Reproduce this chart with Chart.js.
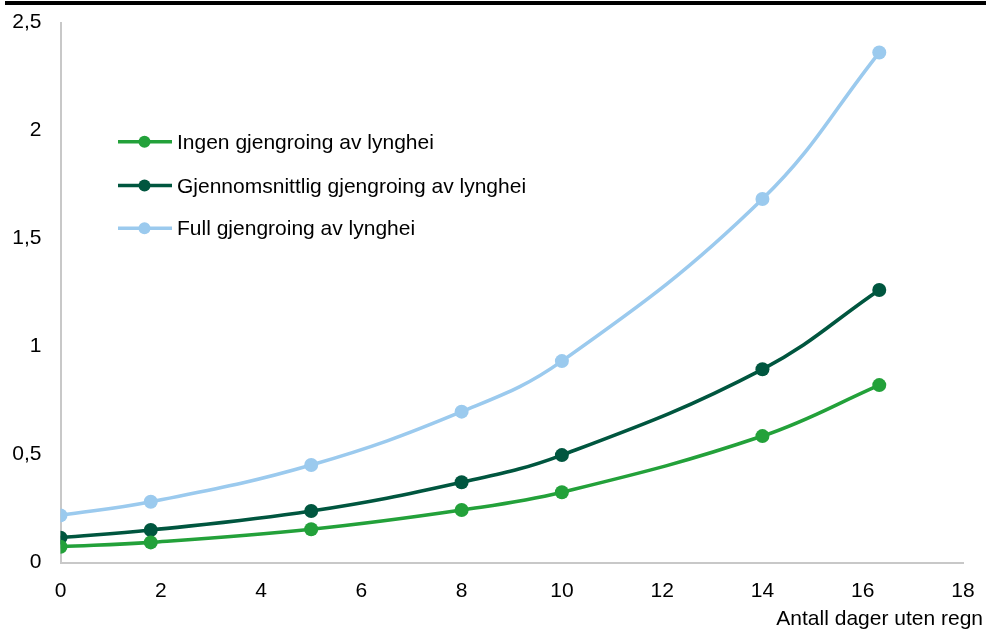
<!DOCTYPE html>
<html>
<head>
<meta charset="utf-8">
<script src="https://cdn.jsdelivr.net/npm/chart.js@4"></script>
<style>
  html, body { margin: 0; padding: 0; background: #ffffff; }
  #wrap { width: 986px; height: 630px; }
</style>
</head>
<body>
<div id="wrap"><canvas id="c" width="986" height="630"></canvas></div>
<script>
// Days without rain (x) and index values for three heathland overgrowth scenarios
const days = [0, 1.8, 5, 8, 10, 14, 16.33];
const seriesNames = [
  'Ingen gjengroing av lynghei',
  'Gjennomsnittlig gjengroing av lynghei',
  'Full gjengroing av lynghei'
];
const ingen = [0.074, 0.094, 0.155, 0.244, 0.326, 0.586, 0.822];
const gjennomsnitt = [0.116, 0.151, 0.239, 0.372, 0.498, 0.895, 1.262];
const full = [0.219, 0.282, 0.452, 0.699, 0.933, 1.683, 2.361];
const xTicks = [0, 2, 4, 6, 8, 10, 12, 14, 16, 18];
const yTicks = [0, 0.5, 1, 1.5, 2, 2.5];
const xTitle = 'Antall dager uten regn';

const colors = ['#23a13a', '#00563f', '#9bcaee'];
const FONT = '"Liberation Sans", Arial, sans-serif';
const FS = 21;

function toPoints(vals) {
  return days.map((d, i) => ({ x: d, y: vals[i] }));
}

// Draws the top rule, the in-plot legend and the x-axis caption
const decorations = {
  id: 'decorations',
  afterDraw(chart) {
    const ctx = chart.ctx;
    ctx.save();
    ctx.fillStyle = '#000000';
    ctx.fillRect(5, 1, 981, 4);

    ctx.font = FS + 'px ' + FONT;
    ctx.textBaseline = 'alphabetic';
    ctx.textAlign = 'left';
    const rows = [141.7, 185.5, 228.3];
    seriesNames.forEach((name, i) => {
      const y = rows[i];
      ctx.strokeStyle = colors[i];
      ctx.lineWidth = 3.5;
      ctx.beginPath();
      ctx.moveTo(118, y);
      ctx.lineTo(172, y);
      ctx.stroke();
      ctx.fillStyle = colors[i];
      ctx.beginPath();
      ctx.arc(144.5, y, 6, 0, Math.PI * 2);
      ctx.fill();
      ctx.fillStyle = '#000000';
      ctx.fillText(name, 177, y + 7);
    });

    ctx.textAlign = 'right';
    ctx.fillText(xTitle, 983, 624.5);
    ctx.restore();
  }
};

const makeSet = (label, vals, color) => ({
  label,
  data: toPoints(vals),
  borderColor: color,
  backgroundColor: color,
  borderWidth: 3.6,
  pointRadius: 7,
  pointHoverRadius: 7,
  pointBorderWidth: 0,
  tension: 0.4,
  fill: false
});

new Chart(document.getElementById('c'), {
  type: 'line',
  data: {
    datasets: [
      makeSet(seriesNames[0], ingen, colors[0]),
      makeSet(seriesNames[1], gjennomsnitt, colors[1]),
      makeSet(seriesNames[2], full, colors[2])
    ]
  },
  options: {
    responsive: false,
    devicePixelRatio: 1,
    animation: false,
    layout: { autoPadding: false, padding: { top: 22.5, right: 23, left: 0, bottom: 0 } },
    plugins: {
      legend: { display: false },
      tooltip: { enabled: false }
    },
    scales: {
      x: {
        type: 'linear',
        min: 0,
        max: 18,
        afterBuildTicks(scale) {
          scale.ticks = xTicks.map(v => ({ value: v }));
        },
        afterFit(scale) {
          scale.height = 67.3;
          scale.paddingLeft = 0;
          scale.paddingRight = 0;
        },
        grid: { display: false, drawTicks: false },
        border: { display: true, color: '#c8c8c8', width: 2 },
        ticks: {
          color: '#000000',
          font: { family: FONT, size: FS },
          padding: 16,
          maxRotation: 0,
          autoSkip: false
        }
      },
      y: {
        min: 0,
        max: 2.5,
        afterBuildTicks(scale) {
          scale.ticks = yTicks.map(v => ({ value: v }));
        },
        afterFit(scale) {
          scale.width = 60.5;
          scale.paddingTop = 0;
          scale.paddingBottom = 0;
        },
        grid: { display: false, drawTicks: false },
        border: { display: true, color: '#c8c8c8', width: 2 },
        ticks: {
          color: '#000000',
          font: { family: FONT, size: FS },
          padding: 19,
          callback: v => String(v).replace('.', ',')
        }
      }
    }
  },
  plugins: [decorations]
});
</script>
</body>
</html>
